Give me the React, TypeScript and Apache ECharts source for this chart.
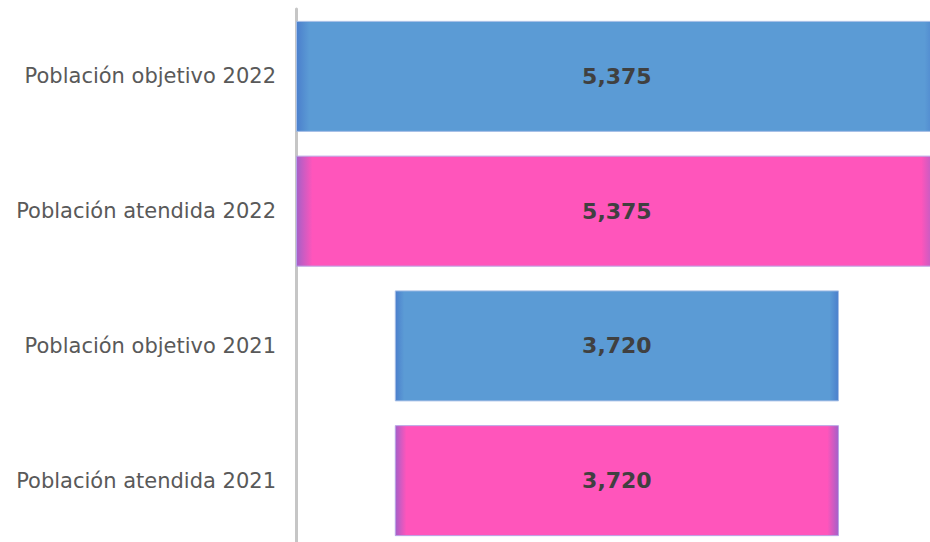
import React, { useEffect, useRef } from "react";
import * as echarts from "echarts";

const categories = [
  "Población objetivo 2022",
  "Población atendida 2022",
  "Población objetivo 2021",
  "Población atendida 2021",
];
const values = [5375, 5375, 3720, 3720];
const kinds = ["objetivo", "atendida", "objetivo", "atendida"];
const maxValue = 5375;

const blueFill = {
  type: "linear", x: 0, y: 0, x2: 1, y2: 0,
  colorStops: [
    { offset: 0, color: "#4b7fcc" },
    { offset: 0.02, color: "#5b9bd5" },
    { offset: 0.98, color: "#5b9bd5" },
    { offset: 1, color: "#4b7fcc" },
  ],
};
const pinkFill = {
  type: "linear", x: 0, y: 0, x2: 1, y2: 0,
  colorStops: [
    { offset: 0, color: "#a460c8" },
    { offset: 0.025, color: "#ff55bb" },
    { offset: 0.975, color: "#ff55bb" },
    { offset: 1, color: "#a460c8" },
  ],
};

export default function App() {
  const ref = useRef<HTMLDivElement>(null);
  useEffect(() => {
    if (!ref.current) return;
    const chart = echarts.init(ref.current, null, { renderer: "svg" });
    const offsets = values.map((v) => (maxValue - v) / 2);
    chart.setOption({
      animation: false,
      grid: { left: 296, right: 0, top: 9, bottom: 0, containLabel: false },
      xAxis: { type: "value", min: 0, max: 5310, show: false },
      yAxis: {
        type: "category",
        inverse: true,
        data: categories,
        axisLine: { show: true, lineStyle: { color: "#c6c6c6", width: 3 } },
        axisTick: { show: false },
        axisLabel: {
          margin: 20,
          color: "#595959",
          fontSize: 21,
          fontFamily: "DejaVu Sans",
        },
      },
      series: [
        {
          type: "bar",
          stack: "s",
          clip: false,
          silent: true,
          barWidth: 111,
          itemStyle: { color: "transparent" },
          data: offsets,
        },
        {
          type: "bar",
          stack: "s",
          clip: false,
          barWidth: 111,
          data: values.map((v, i) => ({
            value: v,
            itemStyle: {
              color: kinds[i] === "objetivo" ? blueFill : pinkFill,
              borderColor: kinds[i] === "objetivo" ? "#a7bfe6" : "#b8a6e6",
              borderWidth: 1,
            },
          })),
          label: {
            show: true,
            position: "inside",
            formatter: (p: any) => Number(p.value).toLocaleString("en-US"),
            color: "#404040",
            fontSize: 22,
            fontWeight: "bold",
            fontFamily: "DejaVu Sans",
          },
        },
      ],
    });
    return () => chart.dispose();
  }, []);
  return (
    <div
      style={{
        position: "absolute",
        left: 0,
        top: 0,
        width: 930,
        height: 542,
        overflow: "hidden",
      }}
    >
      <div ref={ref} style={{ width: 930, height: 548 }} />
    </div>
  );
}
